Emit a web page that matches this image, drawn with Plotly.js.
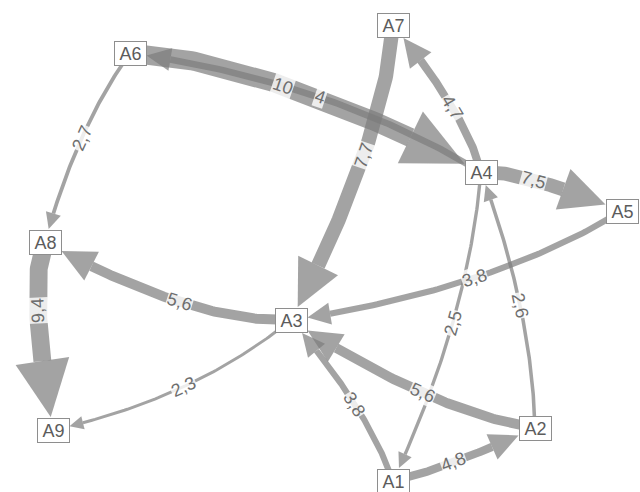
<!DOCTYPE html>
<html><head><meta charset="utf-8">
<script src="https://cdn.plot.ly/plotly-3.0.1.min.js"></script>
<style>html,body{margin:0;padding:0;background:#fff;overflow:hidden}</style>
</head><body><div id="chart" style="width:640px;height:492px"></div>
<script>
// ---- data ----
const nodeNames = ['A1','A2','A3','A4','A5','A6','A7','A8','A9'];
const edgeFrom  = ['A6','A4','A6','A7','A4','A4','A5','A3','A8','A3','A4','A2','A2','A1','A1'];
const edgeTo    = ['A4','A6','A8','A3','A7','A5','A3','A8','A9','A9','A1','A4','A3','A3','A2'];
const edgeValue = [10, 4, 2.7, 7.7, 4.7, 7.5, 3.8, 5.6, 9.4, 2.3, 2.5, 2.6, 5.6, 3.8, 4.8];

// ---- layout (node placement in pixels, curve bends as fractions of chord length) ----
const nodeX = [393, 535, 291, 481, 622, 130, 393, 45, 53];
const nodeY = [481, 428, 320, 172, 211, 53, 25, 242, 430];
const bendAlong  = [-0.081,-0.024,-0.033,-0.076,-0.088,-0.140,-0.038,-0.069,-0.140,-0.019,-0.025,-0.028,-0.063,-0.054,-0.086];
const bendAcross = [ 0.049,-0.051,-0.044, 0.048,-0.050, 0.042, 0.050, 0.064,-0.053, 0.059, 0.044,-0.041, 0.050,-0.046,-0.024];

const EDGE_COLOR = 'rgba(124,124,124,0.7)';
const BOX_HW = 16.5, BOX_HH = 13;
const FONT = 'Liberation Sans, Arial, sans-serif';

function idx(n){ return nodeNames.indexOf(n); }
function bez(P0,C,P1,t){
  const a=(1-t)*(1-t), b=2*(1-t)*t, c=t*t;
  return [a*P0[0]+b*C[0]+c*P1[0], a*P0[1]+b*C[1]+c*P1[1]];
}
function inside(p,cx,cy){ return Math.abs(p[0]-cx)<=BOX_HW && Math.abs(p[1]-cy)<=BOX_HH; }

const traces = [];
const annotations = [];

for (let i=0;i<edgeValue.length;i++){
  const a = idx(edgeFrom[i]), b = idx(edgeTo[i]);
  const P0=[nodeX[a],nodeY[a]], P1=[nodeX[b],nodeY[b]];
  const dx=P1[0]-P0[0], dy=P1[1]-P0[1], len=Math.hypot(dx,dy);
  const dh=[dx/len,dy/len], nn=[dh[1],-dh[0]];
  const Q=[(P0[0]+P1[0])/2,(P0[1]+P1[1])/2];
  const M=[Q[0]+bendAlong[i]*len*dh[0]+bendAcross[i]*len*nn[0],
           Q[1]+bendAlong[i]*len*dh[1]+bendAcross[i]*len*nn[1]];
  const C=[2*M[0]-Q[0], 2*M[1]-Q[1]];
  const v = edgeValue[i];
  const w = 2.1*v - 1.9;
  const L = 6*v;
  const hw = 0.48*L;
  let lo=0.5, hi=1;
  for (let k=0;k<40;k++){ const m=(lo+hi)/2; if (inside(bez(P0,C,P1,m),P1[0],P1[1])) hi=m; else lo=m; }
  const tTip=lo, T=bez(P0,C,P1,tTip);
  let t=tTip, B=T;
  while (t>0){ t-=0.0005; const p=bez(P0,C,P1,t); if (Math.hypot(p[0]-T[0],p[1]-T[1])>=L){B=p;break;} }
  const tBack=t;
  const xs=[], ys=[];
  const N=80;
  for (let k=0;k<=N;k++){ const p=bez(P0,C,P1,tBack*k/N); xs.push(p[0]); ys.push(p[1]); }
  traces.push({x:xs,y:ys,mode:'lines',line:{color:EDGE_COLOR,width:w},hoverinfo:'skip',type:'scatter'});
  const ux=(T[0]-B[0]), uy=(T[1]-B[1]);
  const ul=Math.hypot(ux,uy); const u=[ux/ul,uy/ul]; const p=[-u[1],u[0]];
  traces.push({x:[T[0],B[0]+p[0]*hw,B[0]-p[0]*hw,T[0]], y:[T[1],B[1]+p[1]*hw,B[1]-p[1]*hw,T[1]],
    mode:'lines',fill:'toself',fillcolor:EDGE_COLOR,line:{width:0,color:'rgba(0,0,0,0)'},hoverinfo:'skip',type:'scatter'});
  let ang = Math.atan2(dy,dx)*180/Math.PI;
  if (ang>85) ang-=180; else if (ang<=-95) ang+=180;
  annotations.push({x:M[0],y:M[1],xref:'x',yref:'y',showarrow:false,text:String(v).replace('.',','),
    textangle:ang,font:{family:FONT,size:18,color:'#6e6e6e'},bgcolor:'rgba(255,255,255,0.8)',borderpad:0});
}

for (let i=0;i<nodeNames.length;i++){
  annotations.push({x:nodeX[i],y:nodeY[i],xref:'x',yref:'y',showarrow:false,text:nodeNames[i],
    font:{family:FONT,size:18,color:'#5c5c5c'},bgcolor:'#ffffff',bordercolor:'#8e8e8e',borderwidth:1,borderpad:1,
    width:29,height:21});
}

const layout = {
  width:640,height:492,margin:{l:0,r:0,t:0,b:0,pad:0},
  paper_bgcolor:'#ffffff',plot_bgcolor:'#ffffff',showlegend:false,
  xaxis:{range:[0,640],visible:false,fixedrange:true},
  yaxis:{range:[492,0],visible:false,fixedrange:true},
  annotations:annotations
};
Plotly.newPlot('chart',traces,layout,{displayModeBar:false,staticPlot:true});
</script></body></html>
